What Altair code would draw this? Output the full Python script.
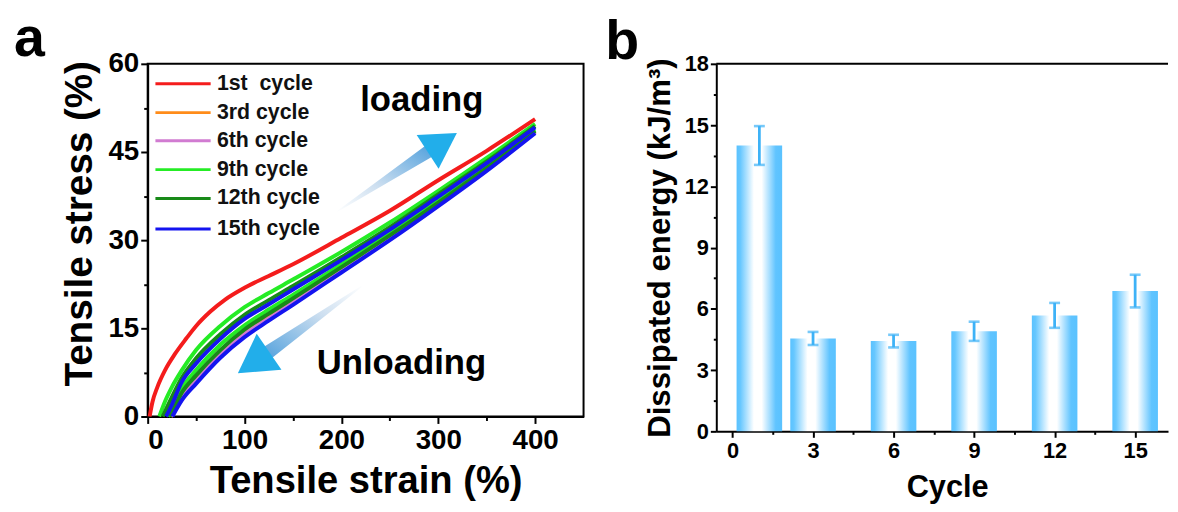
import altair as alt
import pandas as pd

FONT = "Liberation Sans"

# ---------------- panel a : cyclic tensile curves ----------------
cycle_names = ["1st\u00a0\u00a0cycle", "3rd cycle", "6th cycle", "9th cycle", "12th cycle", "15th cycle"]
cycle_colors = ["#f41c1c", "#ff8c1a", "#d17bd1", "#25ec25", "#188a18", "#1414f0"]

c1_load_strain = [2, 5, 10, 18, 28, 40, 50, 65, 80, 100, 125, 150, 200, 250, 300, 350, 400]
c1_load_stress = [0, 2.5, 5.0, 7.9, 10.6, 13.3, 15.4, 17.9, 19.9, 21.9, 23.9, 25.9, 30.4, 35.0, 40.2, 45.2, 50.6]

c3_strain = [23.5, 35, 50, 75, 100, 125, 150, 200, 250, 300, 350, 400]
c3_stress = [0, 3.5, 6.5, 10.7, 14.2, 16.9, 19.6, 25.0, 30.4, 36.1, 42.1, 48.5]

c6_strain = [24, 35, 50, 75, 100, 125, 150, 200, 250, 300, 350, 400]
c6_stress = [0, 3.2, 6.2, 10.5, 14.0, 16.7, 19.4, 24.8, 30.3, 36.0, 42.0, 48.4]

c9_load_strain = [12, 18, 25, 35, 50, 75, 100, 125, 150, 200, 250, 300, 350, 400]
c9_load_stress = [0, 2.6, 5.0, 7.8, 11.3, 15.4, 18.6, 21.0, 23.3, 28.0, 33.0, 38.4, 44.0, 49.8]
c9_unload_strain = [21, 25, 35, 50, 75, 100, 125, 150, 200, 250, 300, 350, 400]
c9_unload_stress = [0, 1.2, 4.7, 7.9, 12.2, 15.5, 18.2, 20.7, 25.9, 31.2, 36.8, 42.7, 48.8]

c12_load_strain = [15.5, 25, 35, 50, 75, 100, 125, 150, 200, 250, 300, 350, 400]
c12_load_stress = [0, 3.3, 6.5, 9.9, 14.0, 17.3, 19.8, 22.2, 27.1, 32.2, 37.8, 43.4, 49.4]
c12_unload_strain = [22.5, 25, 35, 50, 75, 100, 125, 150, 200, 250, 300, 350, 400]
c12_unload_stress = [0, 0.7, 4.0, 7.0, 11.3, 14.8, 17.5, 20.1, 25.4, 30.8, 36.4, 42.3, 48.6]

c15_load_strain = [19, 25, 35, 50, 75, 100, 125, 150, 200, 250, 300, 350, 400]
c15_load_stress = [0, 2.0, 5.8, 9.0, 13.2, 16.6, 19.1, 21.6, 26.6, 31.8, 37.4, 43.1, 49.2]
c15_unload_strain = [25.5, 35, 50, 75, 100, 125, 150, 200, 250, 300, 350, 400]
c15_unload_stress = [0, 2.7, 5.6, 10.0, 13.5, 16.3, 19.0, 24.5, 30.0, 35.8, 41.8, 48.2]

# drawing order (bottom to top)
paths = [
    ("c1", 0, c1_load_strain, c1_load_stress),
    ("c3", 1, c3_strain, c3_stress),
    ("c6", 2, c6_strain, c6_stress),
    ("c9a", 3, c9_load_strain, c9_load_stress),
    ("c9b", 3, c9_unload_strain, c9_unload_stress),
    ("c12a", 4, c12_load_strain, c12_load_stress),
    ("c12b", 4, c12_unload_strain, c12_unload_stress),
    ("c15a", 5, c15_load_strain, c15_load_stress),
    ("c15b", 5, c15_unload_strain, c15_unload_stress),
]

rows = []
for key, ci, xs, ys in paths:
    for i, (sx, sy) in enumerate(zip(xs, ys)):
        rows.append({"path": key, "cycle": cycle_names[ci], "idx": i, "strain": sx, "stress": sy})
curves = pd.DataFrame(rows)

# legend layout (data units of panel a)
legend_line_x = [8, 65]
legend_text_x = 71.5
legend_y = [56.6, 51.7, 46.9, 42.0, 37.1, 31.9]
legend_df = pd.DataFrame({
    "cycle": cycle_names,
    "strain": [legend_line_x[0]] * 6,
    "strain2": [legend_line_x[1]] * 6,
    "tx": [legend_text_x] * 6,
    "stress": legend_y,
})

# arrows (data units of panel a)
shaft_df = pd.DataFrame({
    "arrow": ["load", "load", "unload", "unload"],
    "idx": [0, 1, 0, 1],
    "strain": [195.8, 290.0, 221.4, 124.2],
    "stress": [34.9, 45.1, 22.2, 10.9],
    "w": [1, 13, 1, 14],
})
head_df = pd.DataFrame({
    "arrow": ["load", "unload"],
    "strain": [299.1, 114.6],
    "stress": [46.1, 9.8],
    "ang": [57, 235.5],
    "sz": [1650, 1950],
})
notes_df = pd.DataFrame({
    "label": ["loading", "Unloading"],
    "strain": [283, 262],
    "stress": [52.0, 7.3],
})

cscale = alt.Scale(domain=cycle_names, range=cycle_colors)
xa_scale = alt.Scale(domain=[0, 450], nice=False, zero=False)
ya_scale = alt.Scale(domain=[0, 60], nice=False)

ax_a_x = alt.Axis(
    values=[0, 50, 100, 150, 200, 250, 300, 350, 400],
    labelExpr="datum.value % 100 === 0 ? datum.label : ''",
    tickSize={"condition": {"test": "datum.value % 100 === 0", "value": 7}, "value": 4},
    title="Tensile strain (%)", labelFontSize=28, titleFontSize=38.5,
    labelPadding=3, titlePadding=9,
)
ax_a_y = alt.Axis(
    values=[0, 7.5, 15, 22.5, 30, 37.5, 45, 52.5, 60],
    labelExpr="datum.value % 15 === 0 ? datum.label : ''",
    tickSize={"condition": {"test": "datum.value % 15 === 0", "value": 7}, "value": 4},
    title="Tensile stress (%)", labelFontSize=28, titleFontSize=39,
    labelPadding=2, titlePadding=9, titleY=161,
)
XA = alt.X("strain:Q", scale=xa_scale, axis=ax_a_x)
YA = alt.Y("stress:Q", scale=ya_scale, axis=ax_a_y)

layers_a = []
for key, ci, xs, ys in paths:
    layers_a.append(
        alt.Chart(curves)
        .transform_filter(alt.datum.path == key)
        .mark_line(strokeWidth=4, interpolate="monotone")
        .encode(x=XA, y=YA, color=alt.Color("cycle:N", scale=cscale, legend=None), order="idx:Q")
    )

shaft_grad_load = alt.LinearGradient(
    gradient="linear", x1=0, y1=1, x2=1, y2=0,
    stops=[alt.GradientStop(color="#ffffff", offset=0),
           alt.GradientStop(color="#cddff0", offset=0.4),
           alt.GradientStop(color="#4f9fdc", offset=1)],
)
shaft_grad_unload = alt.LinearGradient(
    gradient="linear", x1=1, y1=0, x2=0, y2=1,
    stops=[alt.GradientStop(color="#ffffff", offset=0),
           alt.GradientStop(color="#cddff0", offset=0.4),
           alt.GradientStop(color="#4f9fdc", offset=1)],
)
for arrow, grad in [("load", shaft_grad_load), ("unload", shaft_grad_unload)]:
    layers_a.append(
        alt.Chart(shaft_df)
        .transform_filter(alt.datum.arrow == arrow)
        .mark_trail(color=grad)
        .encode(x=XA, y=YA, size=alt.Size("w:Q", scale=None, legend=None), order="idx:Q")
    )
layers_a.append(
    alt.Chart(head_df)
    .mark_point(shape="M0,-1.1547L1,0.5774L-1,0.5774Z", filled=True, color="#22aeea", opacity=1, strokeWidth=0)
    .encode(x=XA, y=YA, angle=alt.Angle("ang:Q", scale=None), size=alt.Size("sz:Q", scale=None, legend=None))
)
layers_a.append(
    alt.Chart(notes_df)
    .mark_text(fontSize=35, fontWeight="bold", font=FONT, align="center", baseline="alphabetic", color="black")
    .encode(x=XA, y=YA, text="label:N")
)
layers_a.append(
    alt.Chart(legend_df)
    .mark_rule(strokeWidth=3)
    .encode(x=XA, x2="strain2:Q", y=YA, color=alt.Color("cycle:N", scale=cscale, legend=None))
)
layers_a.append(
    alt.Chart(legend_df)
    .mark_text(fontSize=21.5, fontWeight="bold", font=FONT, align="left", baseline="middle", color="#111111")
    .encode(x=alt.X("tx:Q", scale=xa_scale, axis=ax_a_x), y=YA, text="cycle:N")
)

panel_a = alt.layer(*layers_a).properties(
    width=440, height=356,
    title=alt.TitleParams("a", anchor="start", frame="group", dx=-135, fontSize=56,
                          fontWeight="bold", font=FONT, color="black", offset=-18),
    view=alt.ViewBackground(stroke="black", strokeWidth=2),
)

# ---------------- panel b : dissipated energy ----------------
cycle_b = [1, 3, 6, 9, 12, 15]
energy_b = [14.0, 4.55, 4.42, 4.9, 5.68, 6.87]
error_b = [0.95, 0.32, 0.31, 0.47, 0.61, 0.80]

dfb = pd.DataFrame({"cycle": cycle_b, "energy": energy_b, "err": error_b})
dfb["lo"] = dfb["energy"] - dfb["err"]
dfb["hi"] = dfb["energy"] + dfb["err"]

xb_scale = alt.Scale(domain=[-0.42, 16.04], nice=False, zero=False)
yb_scale = alt.Scale(domain=[0, 18], nice=False)
xb_vals = [0, 1.5, 3, 4.5, 6, 7.5, 9, 10.5, 12, 13.5, 15]
yb_vals = [0, 1.5, 3, 4.5, 6, 7.5, 9, 10.5, 12, 13.5, 15, 16.5, 18]

ax_b_x = alt.Axis(
    values=xb_vals, labelExpr="datum.value % 3 === 0 ? datum.label : ''",
    tickSize={"condition": {"test": "datum.value % 3 === 0", "value": 6}, "value": 3},
    title="Cycle", labelFontSize=22, titleFontSize=31, labelPadding=3, titlePadding=12,
    titleX=233,
)
ax_b_y = alt.Axis(
    values=yb_vals, labelExpr="datum.value % 3 === 0 ? datum.label : ''",
    tickSize={"condition": {"test": "datum.value % 3 === 0", "value": 6}, "value": 3},
    title="Dissipated energy (kJ/m\u00b3)", labelFontSize=22, titleFontSize=31.5,
    labelPadding=2, titlePadding=8,
)
XB = alt.X("cycle:Q", scale=xb_scale, axis=ax_b_x)

bar_grad = alt.LinearGradient(
    gradient="linear", x1=0, y1=0, x2=1, y2=0,
    stops=[alt.GradientStop(color="#5ac2ff", offset=0),
           alt.GradientStop(color="#66c7ff", offset=0.08),
           alt.GradientStop(color="#ffffff", offset=0.38),
           alt.GradientStop(color="#ffffff", offset=0.55),
           alt.GradientStop(color="#60c4ff", offset=0.86),
           alt.GradientStop(color="#5ac2ff", offset=1)],
)
EB = "#3db2f7"

bars = alt.Chart(dfb).mark_bar(size=46, color=bar_grad, orient="vertical").encode(
    x=XB, y=alt.Y("energy:Q", scale=yb_scale, axis=ax_b_y)
)
err_rule = alt.Chart(dfb).mark_rule(color=EB, strokeWidth=2.8).encode(
    x=XB, y=alt.Y("lo:Q", scale=yb_scale, axis=ax_b_y), y2="hi:Q"
)
cap_lo = alt.Chart(dfb).mark_tick(color=EB, thickness=2.6, size=11, orient="horizontal").encode(
    x=XB, y=alt.Y("lo:Q", scale=yb_scale, axis=ax_b_y)
)
cap_hi = alt.Chart(dfb).mark_tick(color=EB, thickness=2.6, size=11, orient="horizontal").encode(
    x=XB, y=alt.Y("hi:Q", scale=yb_scale, axis=ax_b_y)
)
top_line = alt.Chart(pd.DataFrame({"v": [18]})).mark_rule(color="black", strokeWidth=2).encode(
    y=alt.Y("v:Q", scale=yb_scale, axis=ax_b_y)
)

panel_b = alt.layer(bars, err_rule, cap_lo, cap_hi, top_line).properties(
    width=456, height=371,
    title=alt.TitleParams("b", anchor="start", frame="group", dx=-112, fontSize=56,
                          fontWeight="bold", font=FONT, color="black", offset=-18),
    view=alt.ViewBackground(stroke="transparent"),
)

chart = (
    alt.hconcat(panel_a, panel_b, spacing=20)
    .properties(padding={"left": 5, "top": 0, "right": 0, "bottom": 0}, background="white")
    .configure_axis(
        grid=False, domainColor="black", domainWidth=2, tickColor="black", tickWidth=2,
        labelColor="black", titleColor="black", labelFont=FONT, titleFont=FONT,
        labelFontWeight="bold", titleFontWeight="bold",
    )
    .configure_view(stroke="black", strokeWidth=2)
)

chart.save("out.html", embed_options={"renderer": "svg", "actions": False})
